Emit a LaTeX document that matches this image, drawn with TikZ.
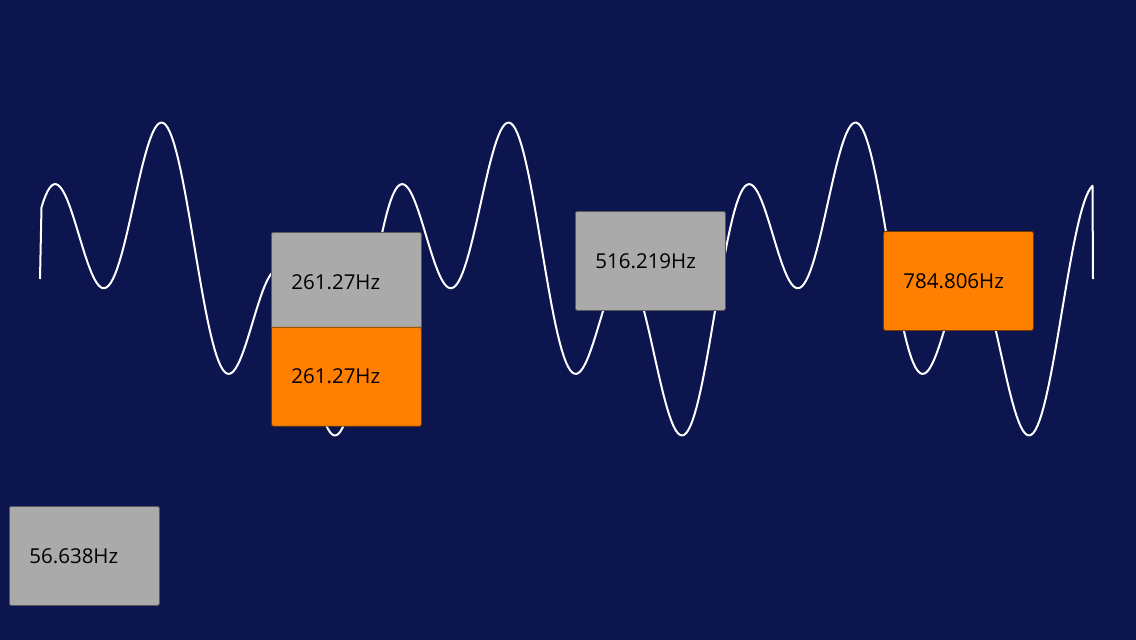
\documentclass[tikz,border=0pt]{standalone}
\usepackage{fontspec}
\setmainfont{Open Sans}
\usepackage{tikz}
\usetikzlibrary{positioning}
\definecolor{bgnavy}{RGB}{12,21,77}
\definecolor{keygray}{RGB}{170,170,170}
\definecolor{keyorange}{RGB}{255,128,0}

\begin{document}
\begin{tikzpicture}[
x=1pt, y=-1pt,
every node/.style={
draw,
line width=0.8pt,
rounded corners=1.5pt,
anchor=north west,
minimum width=150pt,
minimum height=99pt,
inner xsep=20pt,
text width=110pt,
align=left,
font=\fontsize{20.5}{24}\selectfont
},
graykey/.style={fill=keygray,draw=black!65},
orangekey/.style={fill=keyorange,draw=keyorange!45!black},
wave/.style={white,line width=2pt,line join=round}
]

\fill[bgnavy] (0,0) rectangle (1136,640);

% fundamental + third harmonic
\draw[wave] (40,279) -- plot[domain=41.5:1092.5,samples=500]
(\x,{279-85*cos((\x-40)*1.03746-95.5)-84.5*cos((\x-40)*3.11239-28)})
-- (1093,279);

\node[graykey] (g56) at (9,506) {56.638Hz};
\node[graykey] (g261) at (271,232) {261.27Hz};
\node[orangekey,below=-5pt of g261] (o261) {261.27Hz};
\node[graykey] (g516) at (575,211) {516.219Hz};
\node[orangekey] (o784) at (883,231) {784.806Hz};

\end{tikzpicture}
\end{document}
